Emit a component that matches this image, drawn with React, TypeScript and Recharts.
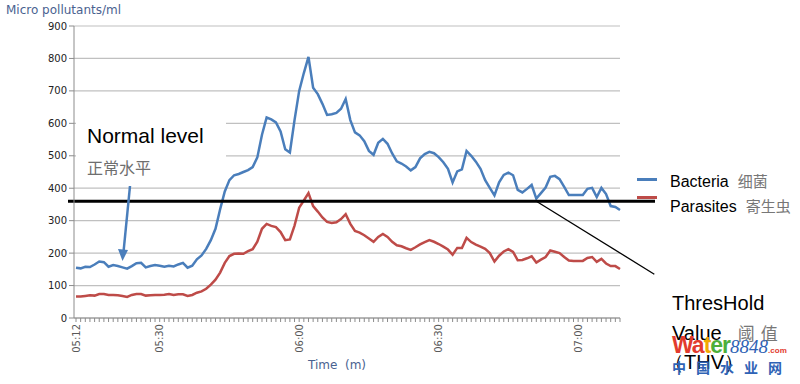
import React from "react";
import { LineChart, Line, XAxis, YAxis, CartesianGrid, ReferenceLine, ReferenceDot } from "recharts";

// one sample per minute, 05:12 .. 07:09
const startMinute = 5 * 60 + 12;
const sampleCount = 118;
const times = Array.from({ length: sampleCount }, (_, i) => {
    const m = startMinute + i;
    return `${String(Math.floor(m / 60)).padStart(2, "0")}:${String(m % 60).padStart(2, "0")}`;
});

const timeLabels = ["05:12", "05:30", "06:00", "06:30", "07:00"];
const yTicks = [0, 100, 200, 300, 400, 500, 600, 700, 800, 900];

const bacteria = [
    155, 153, 158, 157, 165, 174, 172, 158, 163, 160,
    156, 152, 160, 169, 170, 156, 160, 163, 161, 158,
    161, 159, 165, 170, 155, 161, 181, 193, 213, 240,
    275, 335, 390, 425, 440, 444, 450, 456, 465, 495,
    565, 618, 612, 603, 575, 520, 510, 610, 700, 755,
    805, 710, 690, 660, 626, 628, 632, 645, 675, 610,
    572, 563, 545, 515, 503, 540, 552, 537, 507, 483,
    476, 467, 455, 465, 492, 505, 512, 508, 496, 480,
    460, 418, 452, 458, 515, 500, 482, 460, 425, 401,
    378, 418, 441, 448, 440, 395, 387, 398, 410, 368,
    385, 402, 435, 438, 428, 404, 379, 379, 379, 379,
    398, 401, 373, 401, 382, 345, 342, 333,
];

const parasites = [
    66, 66, 68, 70, 69, 74, 74, 71, 71, 70,
    68, 65, 71, 74, 74, 69, 70, 71, 71, 72,
    74, 71, 73, 73, 68, 71, 78, 82, 90, 103,
    118, 140, 170, 191, 198, 199, 198, 206, 212, 235,
    275, 290, 284, 280, 265, 240, 242, 285, 340, 362,
    385, 345, 328, 310, 296, 293, 295, 305, 320, 290,
    268, 263, 255, 245, 235, 250, 259, 250, 235, 224,
    221, 215, 210, 218, 227, 234, 240, 235, 228, 220,
    211, 195, 216, 216, 247, 234, 226, 220, 213, 200,
    174, 192, 205, 212, 204, 178, 179, 184, 190, 171,
    180, 188, 208, 204, 200, 188, 177, 176, 176, 176,
    185, 188, 173, 182, 168, 160, 160, 151,
];

const seriesKeys = ["bacteria", "parasites"];
const seriesNames = ["Bacteria", "Parasites"];
const seriesNamesZh = ["细菌", "寄生虫"];
const seriesColors = ["#4a7ebb", "#be4b48"];

const thresholdValue = 360;
const pointerTime = "06:51";

const data = times.map((time, i) => ({ time, bacteria: bacteria[i], parasites: parasites[i] }));

const sans = "'Liberation Sans', Arial, sans-serif";
const verdana = "'DejaVu Sans', Verdana, sans-serif";
const cjk = "'Noto Sans CJK SC', sans-serif";

const TimeTick = ({ x, y, payload }: any) => {
    if (!timeLabels.includes(payload.value)) return <g />;
    return (
        <text
            x={x}
            y={y}
            transform={`rotate(-90 ${x} ${y})`}
            textAnchor="end"
            dominantBaseline="central"
            fill="#595959"
            fontSize={10}
            fontFamily={verdana}
        >
            {payload.value}
        </text>
    );
};

const abs = (style: React.CSSProperties): React.CSSProperties => ({ position: "absolute", whiteSpace: "nowrap", ...style });

export default function App() {
    return (
        <div style={{ position: "absolute", left: 0, top: 0, width: 800, height: 384, background: "#fff", overflow: "hidden" }}>
            <LineChart width={800} height={384} data={data} margin={{ top: 26, right: 180, bottom: 0, left: 0 }}>
                <CartesianGrid vertical={false} stroke="#c0c0c0" strokeWidth={1.2} />
                <XAxis
                    dataKey="time"
                    interval={0}
                    height={66}
                    padding={{ left: 2, right: 0 }}
                    tickSize={4}
                    tickMargin={2}
                    stroke="#8c8c8c"
                    tick={<TimeTick />}
                />
                <YAxis
                    domain={[0, 900]}
                    ticks={yTicks}
                    width={74}
                    tickSize={5}
                    stroke="#8c8c8c"
                    tick={{ fill: "#222", fontSize: 10, fontFamily: verdana }}
                />
                {seriesKeys.map((k, i) => (
                    <Line
                        key={k}
                        dataKey={k}
                        name={seriesNames[i]}
                        type="linear"
                        stroke={seriesColors[i]}
                        strokeWidth={2.5}
                        dot={false}
                        isAnimationActive={false}
                    />
                ))}
                <ReferenceLine
                    y={thresholdValue}
                    shape={(p: any) => (
                        <line x1={p.x1 - 6} y1={p.y1} x2={p.x2 + 35} y2={p.y2} stroke="#000" strokeWidth={3} />
                    )}
                />
                <ReferenceDot
                    x={pointerTime}
                    y={thresholdValue}
                    ifOverflow="visible"
                    shape={(p: any) => (
                        <line x1={p.cx} y1={p.cy} x2={p.cx + 118} y2={p.cy + 73} stroke="#000" strokeWidth={1.3} />
                    )}
                />
            </LineChart>

            {/* white box behind the annotation */}
            <div style={abs({ left: 76, top: 106, width: 150, height: 74, background: "#fff" })} />
            <div style={abs({ left: 87, top: 125, fontFamily: sans, fontSize: 21, lineHeight: "21px", color: "#000" })}>Normal level</div>
            <div style={abs({ left: 87, top: 159, fontFamily: cjk, fontSize: 16, lineHeight: "16px", color: "#6e6e6e" })}>正常水平</div>
            <svg width={800} height={384} style={{ position: "absolute", left: 0, top: 0 }}>
                <line x1={130} y1={186} x2={123.5} y2={252} stroke="#4a7ebb" strokeWidth={2.5} />
                <polygon points="122.5,261 118,249 128,250" fill="#4a7ebb" />
            </svg>

            <div style={abs({ left: 6, top: 3, fontFamily: verdana, fontSize: 12, lineHeight: "14px", color: "#4a6290" })}>
                Micro pollutants/ml
            </div>
            <div style={abs({ left: 308, top: 358, fontFamily: verdana, fontSize: 12, lineHeight: "14px", color: "#4a6290" })}>
                Time&nbsp;&nbsp;(m)
            </div>

            {/* legend */}
            {seriesNames.map((name, i) => (
                <React.Fragment key={name}>
                    <div style={abs({ left: 637, top: i === 0 ? 178 : 196, width: 20, height: 2.5, background: seriesColors[i] })} />
                    <div style={abs({ left: 670, top: i === 0 ? 173 : 198, fontFamily: sans, fontSize: 16, lineHeight: "16px", color: "#000" })}>
                        {name}
                        <span style={{ fontFamily: cjk, color: "#777", fontSize: 15, marginLeft: 9 }}>{seriesNamesZh[i]}</span>
                    </div>
                </React.Fragment>
            ))}

            {/* threshold annotation */}
            <div style={abs({ left: 672, top: 293, fontFamily: sans, fontSize: 20, lineHeight: "20px", color: "#000" })}>ThresHold</div>
            <div style={abs({ left: 672, top: 323, fontFamily: sans, fontSize: 20, lineHeight: "20px", color: "#000" })}>
                Value
                <span style={{ fontFamily: cjk, color: "#777", fontSize: 17, marginLeft: 16, letterSpacing: 6 }}>阈值</span>
            </div>
            <div style={abs({ left: 664, top: 352, fontFamily: sans, fontSize: 20, lineHeight: "20px", color: "#000" })}>（THV）</div>

            {/* watermark */}
            <div style={abs({ left: 672, top: 334, fontFamily: sans, fontWeight: 700, fontSize: 23, lineHeight: "23px", letterSpacing: -1 })}>
                <span style={{ color: "#e23b2e" }}>Wa</span>
                <span style={{ color: "#f2a900" }}>t</span>
                <span style={{ color: "#4caf3a" }}>er</span>
                <span style={{ color: "#2f63b5", fontFamily: "'Liberation Serif', serif", fontStyle: "italic", fontWeight: 400, fontSize: 19, letterSpacing: 0 }}>8848</span>
                <span style={{ color: "#e23b2e", fontSize: 8, fontWeight: 700, letterSpacing: 0 }}>.com</span>
            </div>
            <div style={abs({ left: 672, top: 359, fontFamily: cjk, fontWeight: 700, fontSize: 14, lineHeight: "16px", color: "#2f63b5", letterSpacing: 10 })}>
                中国水业网
            </div>
        </div>
    );
}
